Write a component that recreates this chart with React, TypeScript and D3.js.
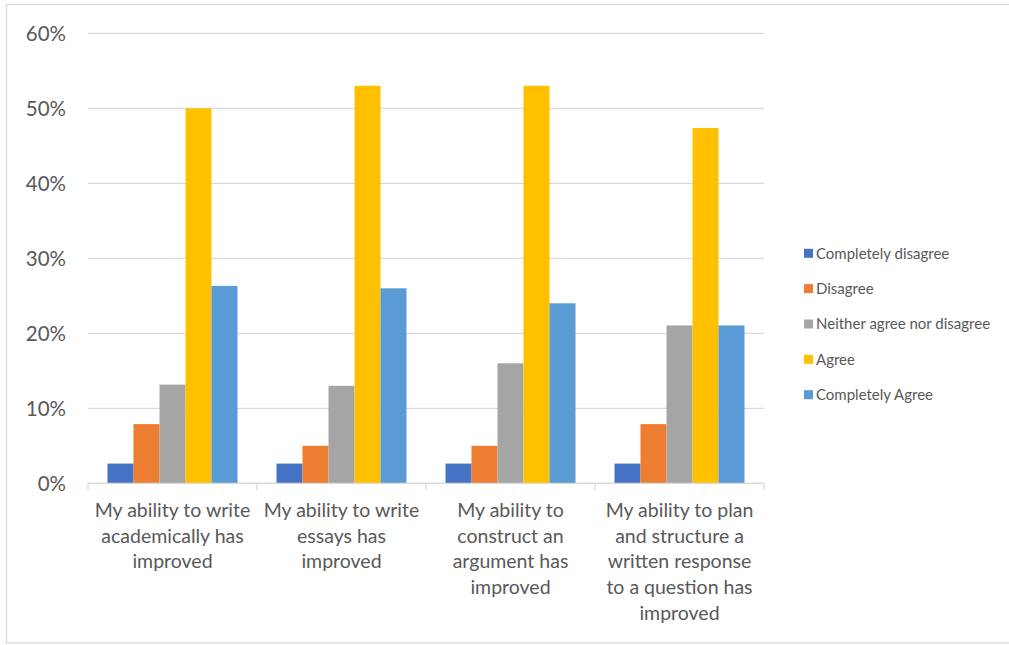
import React from "react";
import * as d3 from "d3";

// Survey categories, each label split into the lines it is printed on
const categories = ["academic", "essays", "argument", "plan"];
const categoryLines = [
  ["My ability to write", "academically has", "improved"],
  ["My ability to write", "essays has", "improved"],
  ["My ability to", "construct an", "argument has", "improved"],
  ["My ability to plan", "and structure a", "written response", "to a question has", "improved"],
];

const series = ["Completely disagree", "Disagree", "Neither agree nor disagree", "Agree", "Completely Agree"];
const seriesColors = ["#4472C4", "#ED7D31", "#A5A5A5", "#FFC000", "#5B9BD5"];

// Share of responses (%) per category for each answer
const completelyDisagree = [2.63, 2.63, 2.63, 2.63];
const disagree = [7.89, 5.0, 5.0, 7.89];
const neither = [13.16, 13.0, 16.0, 21.05];
const agree = [50.0, 53.0, 53.0, 47.37];
const completelyAgree = [26.32, 26.0, 24.0, 21.05];

const yTicks = [0, 10, 20, 30, 40, 50, 60];

const W = 1009;
const H = 645;
const FONT = "Lato, 'Open Sans', sans-serif";
const TEXT = "#595959";
const GRID = "#D9D9D9";

export default function App() {
  const values = [completelyDisagree, disagree, neither, agree, completelyAgree];

  const plot = { left: 88, right: 764, top: 33.3, bottom: 483.3 };

  const y = d3.scaleLinear().domain([0, 60]).range([plot.bottom, plot.top]);
  const x0 = d3.scaleBand<string>().domain(categories).range([plot.left, plot.right]).padding(0);
  const x1 = d3
    .scaleBand<string>()
    .domain(series)
    .range([0, x0.bandwidth()])
    .paddingInner(0)
    .paddingOuter(0.75);

  const boundaries = [...categories.map((c) => x0(c) as number), plot.right];

  return (
    <div style={{ position: "fixed", left: 0, top: 0, width: W, height: H, background: "#fff" }}>
      <svg width={W} height={H} style={{ display: "block" }} fontFamily={FONT}>
        <rect x={0} y={0} width={W} height={H} fill="#fff" />
        {/* chart frame */}
        <rect x={6.5} y={4.5} width={W + 10} height={638.5} fill="none" stroke={GRID} strokeWidth={1.3} />

        {/* horizontal gridlines */}
        {yTicks.map((t) => (
          <line
            key={t}
            x1={plot.left}
            x2={plot.right}
            y1={y(t)}
            y2={y(t)}
            stroke={GRID}
            strokeWidth={1.3}
          />
        ))}

        {/* y tick labels */}
        {yTicks.map((t) => (
          <text
            key={"yl" + t}
            x={66}
            y={y(t)}
            dy="0.36em"
            textAnchor="end"
            fontSize={20.5}
            fill={TEXT}
          >
            {t}%
          </text>
        ))}

        {/* bars */}
        {values.map((vals, si) =>
          vals.map((v, ci) => {
            const bx = (x0(categories[ci]) as number) + (x1(series[si]) as number);
            return (
              <rect
                key={si + "-" + ci}
                x={bx}
                y={y(v)}
                width={x1.bandwidth()}
                height={y(0) - y(v)}
                fill={seriesColors[si]}
              />
            );
          })
        )}

        {/* category axis line and tick marks */}
        <line x1={plot.left} x2={plot.right} y1={y(0)} y2={y(0)} stroke={GRID} strokeWidth={1.3} />
        {boundaries.map((bx, i) => (
          <line key={"tk" + i} x1={bx} x2={bx} y1={y(0)} y2={y(0) + 7} stroke={GRID} strokeWidth={1.3} />
        ))}

        {/* category labels */}
        {categories.map((c, ci) => (
          <text
            key={"cl" + c}
            x={(x0(c) as number) + x0.bandwidth() / 2}
            y={517}
            textAnchor="middle"
            fontSize={19.5}
            fill={TEXT}
          >
            {categoryLines[ci].map((line, li) => (
              <tspan key={li} x={(x0(c) as number) + x0.bandwidth() / 2} dy={li === 0 ? 0 : 25.7}>
                {line}
              </tspan>
            ))}
          </text>
        ))}

        {/* legend */}
        {series.map((s, si) => {
          const cy = 253.3 + si * 35.35;
          return (
            <g key={"lg" + s}>
              <rect x={804} y={cy - 4.5} width={9} height={9} fill={seriesColors[si]} />
              <text x={816} y={cy} dy="0.36em" fontSize={15} fill={TEXT}>
                {s}
              </text>
            </g>
          );
        })}
      </svg>
    </div>
  );
}
